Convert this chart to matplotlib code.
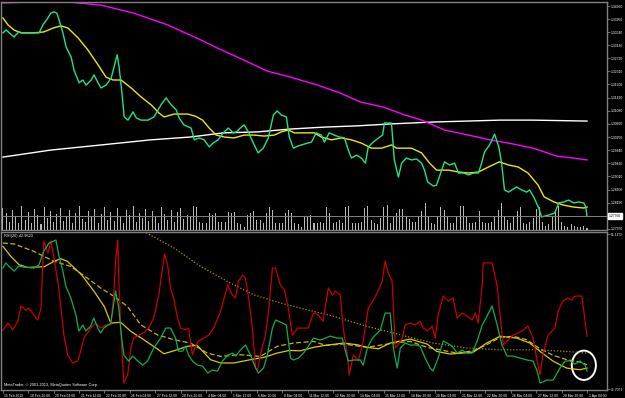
import numpy as np
import matplotlib.pyplot as plt
from matplotlib.patches import Ellipse
import matplotlib.transforms as mtrans

plt.rcParams['font.family'] = ['Liberation Sans', 'DejaVu Sans']

# ---- main panel (H4 bars, x = bar index) ----
close_pts = [
    (0, 1.3352), (1, 1.3361), (2, 1.3352), (3.5, 1.3339), (5, 1.3355), (6.3, 1.3352), (8, 1.3352),
    (10, 1.3352), (11.4, 1.3352), (12.6, 1.3377), (14.2, 1.3399), (15.1, 1.3414), (16.1, 1.3418),
    (17, 1.3414), (17.7, 1.3392), (18.9, 1.3352), (19.9, 1.3308), (21.5, 1.3276), (22.4, 1.3235),
    (24, 1.3195), (25.2, 1.3204), (26.2, 1.3188), (27.8, 1.3204), (28.7, 1.3220), (30, 1.3195),
    (30.9, 1.3179), (32.5, 1.3188), (34.1, 1.3210), (35, 1.3245), (36, 1.3283), (36.6, 1.3245),
    (37.5, 1.3163), (38.2, 1.3088), (39.4, 1.3078), (41, 1.3104), (42, 1.3085), (43.5, 1.3078),
    (45.7, 1.3078), (47.6, 1.3088), (49.8, 1.3126), (51.4, 1.3148), (53, 1.3126), (54.6, 1.3110),
    (55.5, 1.3085), (57, 1.3063), (59.3, 1.3053), (60.3, 1.3016), (61.8, 1.3022), (63.4, 1.3016),
    (65, 1.2994), (66.2, 1.3006), (67.8, 1.3016), (69.4, 1.3038), (71, 1.3053), (72.6, 1.3038),
    (73.5, 1.3041), (75.1, 1.3056), (76, 1.3063), (77.3, 1.3041), (78.9, 1.3006), (80.4, 1.2975),
    (82, 1.2990), (83.6, 1.3022), (85.2, 1.3094), (86.4, 1.3107), (87.7, 1.3094), (89.3, 1.3088),
    (90.2, 1.3025), (91.5, 1.2990), (93, 1.2997), (95, 1.3003), (97.2, 1.3009), (98.7, 1.3038),
    (100.3, 1.3031), (101.3, 1.3009), (102.8, 1.3038), (104.4, 1.3031), (106, 1.3025), (107.6, 1.3022),
    (108.8, 1.2984), (109.8, 1.2959), (111.4, 1.2968), (112.9, 1.2959), (114.2, 1.2943), (115.1, 1.2994),
    (116.7, 1.3009), (118.3, 1.3022), (119.6, 1.3031), (120.2, 1.3069), (121.5, 1.3069), (122.4, 1.3069),
    (123.3, 1.2953), (124.6, 1.2899), (125.6, 1.2943), (127.1, 1.2959), (128.7, 1.2953), (130.3, 1.2956),
    (131.9, 1.2943), (132.8, 1.2921), (133.8, 1.2884), (135.6, 1.2871), (136.6, 1.2874), (137.9, 1.2912),
    (139.1, 1.2947), (140.7, 1.2937), (142.3, 1.2943), (143.5, 1.2912), (145.1, 1.2912), (146.7, 1.2906),
    (148.3, 1.2912), (149.8, 1.2912), (150.8, 1.2943), (151.7, 1.2978), (153.3, 1.3000), (154.9, 1.3034),
    (156.2, 1.2994), (157.1, 1.2943), (158, 1.2859), (159.3, 1.2852), (161.8, 1.2868), (163.4, 1.2859),
    (165, 1.2852), (165.9, 1.2859), (167.2, 1.2837), (168.8, 1.2802), (169.7, 1.2774), (171.9, 1.2780),
    (173.8, 1.2786), (175.1, 1.2818), (176.7, 1.2821), (178.2, 1.2827), (179.8, 1.2818), (181.4, 1.2821),
    (183, 1.2818), (183.6, 1.2805), (184, 1.27766),
]

ma_fast_pts = [
    (0, 1.3399), (1.6, 1.3377), (3.5, 1.3361), (5.7, 1.3352), (9.8, 1.3352), (12.9, 1.3355), (15.8, 1.3367),
    (18.3, 1.3374), (20.5, 1.3367), (23.7, 1.3336), (26.8, 1.3298), (30, 1.3251), (32.5, 1.3213),
    (34.7, 1.3204), (37.2, 1.3204), (40.4, 1.3179), (43.5, 1.3151), (46.7, 1.3126), (49.2, 1.3100),
    (50.8, 1.3088), (53.9, 1.3097), (58.3, 1.3097), (60.7, 1.3090), (62.9, 1.3078), (65, 1.3053),
    (67.2, 1.3031), (69.7, 1.3025), (72.8, 1.3022), (76, 1.3031), (79.2, 1.3031), (82.3, 1.3028),
    (85.5, 1.3031), (87.7, 1.3041), (89.9, 1.3047), (91.8, 1.3038), (95, 1.3038), (98.1, 1.3038),
    (100.3, 1.3025), (103.5, 1.3016), (106.6, 1.3022), (109.8, 1.3016), (112.9, 1.3006), (116.1, 1.2990),
    (119.3, 1.2990), (122.4, 1.3000), (124, 1.2990), (128.7, 1.2990), (131.9, 1.2975), (134.4, 1.2943),
    (136.6, 1.2921), (140.4, 1.2921), (143.5, 1.2915), (146.7, 1.2912), (149.8, 1.2915), (153, 1.2931),
    (156.4, 1.2947), (159.3, 1.2937), (162.3, 1.2931), (165.4, 1.2912), (168.6, 1.2874), (170.5, 1.2837),
    (173.6, 1.2821), (176.7, 1.2811), (179.8, 1.2805), (183, 1.2802), (184, 1.2805),
]

ma_slow_pts = [
    (0, 1.3446), (9.8, 1.3449), (20.5, 1.3449), (30.9, 1.3439), (41.2, 1.3414), (51.9, 1.3377),
    (62.3, 1.3330), (67.6, 1.3304), (75.8, 1.3267), (83.3, 1.3232), (90.6, 1.3213), (99.1, 1.3188),
    (106.3, 1.3163), (112.6, 1.3135), (119.8, 1.3119), (126.7, 1.3094), (131.9, 1.3078), (139.1, 1.3047),
    (146.7, 1.3031), (153.5, 1.3016), (160.7, 1.3003), (167, 1.2990), (174.5, 1.2965), (179.6, 1.2959),
    (184, 1.2953),
]

ma_long_pts = [
    (0, 1.2962), (15.1, 1.2984), (30.9, 1.3000), (46.5, 1.3016), (59.1, 1.3025), (69.5, 1.3038),
    (80.2, 1.3041), (90.6, 1.3050), (101, 1.3056), (111.6, 1.3060), (122, 1.3066), (135.5, 1.3072),
    (146.2, 1.3075), (156.6, 1.3078), (167, 1.3078), (184, 1.3075),
]

volume = [
    2200, 1700, 800, 2000, 1400, 700, 2400, 1000, 1800, 700, 2100, 1500, 600, 2300, 1200, 1900, 800, 1600,
    2200, 900, 1300, 2000, 700, 1700, 2400, 1100, 800, 1900, 1400, 2100, 700, 1600, 2300, 1000, 1800, 900,
    2200, 1300, 700, 2000, 1500, 2400, 800, 1700, 1200, 2100, 900, 1900, 1400, 700, 2300, 1600, 1000, 2000,
    800, 1800, 2200, 1100, 1500, 1300,
    2400, 2300, 800, 700, 700, 1700, 1500, 1700, 800, 800, 800, 1800, 1700, 1800, 700, 600, 300, 1500,
    1700, 1900, 1000, 1000, 700, 1700, 2300, 2000, 700, 700, 700, 1700, 2000, 1700, 700, 600, 300, 1300,
    1400, 1500, 700, 700, 800, 700, 2300, 1700, 700, 800, 1000, 700, 2300, 2400, 700, 700, 700, 800,
    2200, 2400, 1000, 700, 600, 1200, 2300, 2500, 700, 1300, 1700, 2100, 2100, 1400,
    1100, 800, 800, 1300, 1900, 2700, 1300, 700, 600, 1400, 2300, 2000, 1300, 700, 700, 1300, 2400, 2400,
    1300, 700, 700, 800, 1900, 800, 700, 700, 800, 1300, 2000, 2700, 1300, 1000, 700, 1300, 1900, 2300,
    700, 600, 800, 1200, 2100, 2300, 800, 400, 600, 1300, 2000, 2400, 800, 400, 300, 600, 400, 300, 300,
    400, 200,
]

price_ticks = [1.34360, 1.33950, 1.33540, 1.33130, 1.32720, 1.32310, 1.31900, 1.31490, 1.31080,
               1.30660, 1.30250, 1.29840, 1.29420, 1.29010, 1.28600, 1.28190, 1.27370]
last_price = 1.27766

# ---- indicator panel ----
rsi_red_pts = [
    (0, 45.29), (1.6, 45.71), (3.1, 45.29), (4.7, 45.83), (5.7, 46.75), (7.2, 46.50), (8.2, 46.62),
    (9.7, 46.20), (11, 45.90), (12, 46.62), (12.6, 49.48), (12.9, 50.69), (14.2, 49.96), (15.1, 50.69),
    (16, 49.78), (17.6, 47.84), (19.2, 44.98), (20.4, 43.77), (22, 43.29), (23.6, 43.41), (24.5, 44.01),
    (25.5, 44.80), (27.7, 45.41), (29.2, 45.71), (30.8, 45.41), (32.4, 45.59), (34, 45.59), (34.9, 47.41),
    (35.5, 49.48), (36.2, 50.75), (36.5, 48.44), (37.1, 45.41), (38.1, 42.07), (39.3, 42.56), (40.3, 44.20),
    (41.2, 44.80), (42.8, 44.98), (44.3, 45.11), (45.9, 45.41), (47.5, 46.02), (49.1, 47.41), (50.3, 49.05),
    (50.9, 49.90), (51.9, 49.23), (52.8, 47.84), (53.8, 47.23), (55, 46.02), (56, 45.41), (57.5, 45.29),
    (58.5, 45.41), (59.7, 43.77), (60.7, 44.32), (61.6, 44.62), (63.2, 44.80), (64.8, 44.98), (66.4, 45.41),
    (68.6, 46.44), (70.8, 48.02), (72.3, 47.41), (73.3, 47.23), (74.2, 48.26), (75.5, 48.63), (76.4, 48.44),
    (77.4, 47.23), (78.6, 45.41), (79.6, 42.98), (80.2, 42.86), (81.1, 43.77), (82.7, 44.98), (83.7, 46.44),
    (84.9, 49.05), (85.9, 49.05), (87.4, 48.02), (88.7, 47.72), (89.9, 46.62), (91.2, 44.98), (92.8, 45.41),
    (94.3, 45.41), (96.2, 45.41), (97.8, 46.32), (99.4, 46.20), (100.9, 45.83), (102.5, 47.84),
    (103.8, 47.41), (104.7, 47.66), (106.3, 47.41), (107.2, 45.41), (108.5, 43.77), (109.1, 42.56),
    (110.4, 43.77), (112, 43.41), (113.5, 44.62), (115.1, 46.62), (116.7, 47.11), (118.2, 47.66),
    (119.5, 48.26), (120.4, 49.48), (121.4, 48.75), (122.6, 48.26), (123.6, 44.20), (124.5, 44.38),
    (125.8, 44.80), (126.7, 45.59), (128.3, 45.71), (129.9, 45.59), (131.4, 45.83), (132.4, 45.41),
    (133.7, 45.23), (135.2, 45.53), (136.2, 44.80), (137.1, 46.20), (138.7, 47.35), (140.3, 47.05),
    (141.8, 47.23), (143.1, 46.02), (144.7, 46.32), (146.2, 46.14), (147.8, 45.90), (148.8, 46.32),
    (149.7, 45.71), (151, 48.02), (151.3, 49.36), (154.1, 49.36), (155.7, 47.96), (156.6, 46.20),
    (157.6, 44.38), (158.8, 44.62), (160.7, 44.98), (163.5, 45.23), (165.4, 45.53), (167, 44.80),
    (168.3, 43.41), (169.2, 42.56), (170.1, 43.77), (171.7, 44.98), (173.9, 45.41), (174.9, 46.44),
    (176.4, 47.05), (178, 47.23), (179.2, 47.11), (180.2, 47.35), (182.4, 47.35), (184, 44.92),
]

rsi_green_pts = [
    (0, 49.05), (0.9, 49.36), (2.5, 49.05), (3.5, 48.87), (5, 49.17), (6.6, 49.11), (9.7, 49.05),
    (11.3, 49.23), (12.9, 50.08), (14.5, 50.57), (16.7, 50.75), (17.6, 49.84), (18.9, 48.87), (19.8, 47.96),
    (21.4, 47.23), (23, 46.20), (23.9, 45.23), (25.2, 45.59), (26.1, 45.23), (27.7, 45.53), (28.6, 46.02),
    (29.9, 45.41), (30.8, 45.11), (31.8, 45.41), (33, 45.59), (34, 45.71), (35.5, 47.66), (36.5, 46.62),
    (37.4, 44.80), (38.1, 43.77), (39.6, 43.41), (40.9, 43.71), (42.5, 43.41), (44, 43.16), (45.6, 43.41),
    (47.5, 44.20), (49.7, 44.80), (51.3, 45.41), (52.8, 45.41), (54.4, 44.80), (55.3, 44.01), (56.6, 44.01),
    (57.5, 44.32), (58.5, 43.77), (59.7, 43.41), (61.3, 43.16), (62.9, 43.10), (64.5, 42.68), (66, 42.86),
    (67.6, 42.80), (69.2, 43.41), (70.8, 43.77), (72.3, 43.89), (73.3, 43.71), (74.8, 44.07), (76.4, 44.38),
    (78, 43.77), (79.6, 42.98), (80.5, 42.68), (82.1, 42.98), (83.3, 43.77), (84.9, 45.41), (85.9, 45.90),
    (88.1, 45.71), (89.3, 45.59), (90.6, 43.59), (91.5, 43.47), (93.1, 43.59), (94.7, 43.89), (95.9, 44.20),
    (97.8, 44.80), (100, 44.68), (101.6, 44.80), (103.1, 44.92), (105.3, 44.80), (106.9, 44.80),
    (107.9, 44.01), (108.8, 43.41), (110.4, 43.47), (112.6, 43.47), (113.5, 43.16), (114.8, 44.20),
    (116.4, 44.80), (118.9, 45.29), (120.4, 46.32), (122, 46.32), (123, 44.20), (124.2, 42.98),
    (125.2, 44.20), (126.7, 44.50), (128.3, 44.38), (129.9, 44.38), (131.4, 44.32), (133, 43.59),
    (134.6, 42.98), (135.5, 42.80), (137.1, 43.59), (138.7, 44.62), (139.9, 44.50), (141.5, 44.32),
    (143.1, 43.89), (144.7, 44.07), (146.2, 43.89), (147.8, 43.89), (149.4, 44.62), (151, 45.59),
    (152.5, 46.14), (154.1, 46.75), (155.7, 45.59), (157.2, 44.38), (158.8, 43.71), (160.7, 43.71),
    (162.9, 43.59), (165.1, 43.47), (167, 43.41), (168.3, 42.80), (169.2, 42.07), (171.4, 42.25),
    (173.3, 42.25), (175.5, 42.98), (177.1, 43.41), (178.7, 43.41), (180.2, 43.22), (181.8, 43.41),
    (183.4, 43.16), (184, 42.80),
]

sig_solid_pts = [
    (0, 50.37), (2.5, 49.76), (5.1, 49.25), (7.8, 49.09), (13, 49.13), (16.1, 49.46), (18.2, 49.62),
    (20.3, 49.46), (24.8, 48.64), (28.7, 47.64), (31.9, 46.73), (34, 45.71), (37.1, 45.76), (40.3, 45.21),
    (44.4, 44.70), (48.6, 44.15), (50.7, 43.85), (53.9, 44.03), (58.1, 44.30), (61.2, 44.36), (65.4, 43.49),
    (68.6, 43.29), (72.7, 43.29), (78, 43.49), (82.2, 43.63), (86.4, 43.89), (90.2, 44.05), (93.7, 44.03),
    (97.9, 44.24), (101.6, 44.36), (107.3, 44.50), (111.5, 44.40), (114.7, 44.24), (118.3, 44.15),
    (122, 44.50), (128.3, 44.74), (133.6, 44.44), (136.7, 43.99), (140.9, 43.83), (148.2, 43.95),
    (152.4, 44.50), (156.6, 44.91), (161.9, 44.80), (166, 44.50), (169.2, 43.99), (173.4, 43.39),
    (177.6, 42.98), (181.8, 42.88), (184, 42.98),
]

sig_dash_pts = [
    (0, 50.57), (3.6, 50.51), (9.8, 50.06), (16.1, 49.46), (21.4, 49.15), (26.6, 48.44), (30.8, 47.84),
    (35, 47.33), (39.2, 46.73), (43.4, 45.61), (48.6, 45.00), (53.9, 44.70), (59.1, 44.50), (64.4, 43.89),
    (68.6, 43.69), (74.8, 43.79), (81.1, 43.69), (86.4, 44.30), (91.6, 44.50), (97.9, 44.60), (101.6, 44.36),
    (107.3, 44.44), (114.7, 44.24), (123, 44.50), (128.3, 44.60), (133.6, 44.24), (137.7, 44.09),
    (143, 43.89), (148.2, 44.03), (152.4, 44.40), (156.6, 44.84), (160.8, 44.91), (165, 44.70),
    (169.2, 44.15), (173.4, 43.75), (177.6, 43.49), (181.8, 43.35), (184, 43.18),
]

sig_dot_pts = [
    (43.4, 51.38), (53.9, 50.27), (62.3, 49.15), (70.7, 48.24), (79, 47.43), (87.4, 46.93), (93.7, 46.62),
    (104.2, 46.12), (114.7, 45.51), (125.2, 45.00), (135.6, 44.50), (146.1, 44.20), (156.6, 44.09),
    (167.1, 44.09), (177.6, 43.99), (184, 43.89),
]

ind_ticks = [51.1172, 41.7071]
ind_label = "RSI(20) 42.9623"

time_labels = ["15 Feb 2013", "18 Feb 20:00", "20 Feb 04:00", "21 Feb 12:00", "22 Feb 20:00",
               "26 Feb 04:00", "27 Feb 12:00", "28 Feb 20:00", "4 Mar 04:00", "5 Mar 12:00",
               "6 Mar 20:00", "8 Mar 04:00", "11 Mar 12:00", "12 Mar 20:00", "14 Mar 04:00",
               "15 Mar 12:00", "18 Mar 20:00", "20 Mar 04:00", "21 Mar 12:00", "22 Mar 20:00",
               "26 Mar 04:00", "27 Mar 12:00", "28 Mar 20:00", "1 Apr 04:00"]
bars_per_label = 8


def xy(pts):
    a = np.array(pts)
    return a[:, 0], a[:, 1]


GRID = '#808080'
TXT = 'white'
FS = 2.4      # axis labels (MT4 uses a tiny font)
FS_NOTE = 2.8

fig = plt.figure(figsize=(6.25, 3.98), dpi=100, facecolor='black')
ax = fig.add_axes([0.0016, 0.4221, 0.9696, 0.5729])
ax2 = fig.add_axes([0.0016, 0.0201, 0.9696, 0.3970], sharex=ax, facecolor='black')

# volumes under the price lines
axv = ax.twinx()
axv.set_facecolor('black')
ax.set_zorder(axv.get_zorder() + 1)
ax.patch.set_visible(False)
axv.bar(np.arange(len(volume)), volume, width=0.32, color='#b8b8b8', linewidth=0)
axv.set_ylim(0, 22800)
axv.set_yticks([])
for s in axv.spines.values():
    s.set_visible(False)

ax.plot(*xy(ma_long_pts), color='white', lw=1.0)
ax.plot(*xy(ma_slow_pts), color='#ff00ff', lw=1.0)
ax.plot(*xy(ma_fast_pts), color='#f2e600', lw=1.0)
ax.plot(*xy(close_pts), color='#1fe38a', lw=1.0)
ax.axhline(last_price, color=GRID, lw=0.7)

ax.set_xlim(-0.6, 190.3)
ax.set_ylim(1.27330, 1.34489)
ax.yaxis.tick_right()
ax.set_yticks(price_ticks)
ax.set_yticklabels([f"{p:.5f}" for p in price_ticks])
ax.tick_params(axis='y', colors=GRID, labelcolor=TXT, labelsize=FS, length=2, width=0.6, pad=1)
ax.tick_params(axis='x', bottom=False, labelbottom=False)
ax.text(1.003, last_price, f"{last_price:.5f}", transform=ax.get_yaxis_transform(),
        fontsize=FS, color='black', va='center', ha='left',
        bbox=dict(boxstyle='square,pad=0.2', fc='white', ec='white'))

# indicator panel
ax2.plot(*xy(sig_dot_pts), color='#a89600', lw=0.9, ls=(0, (1, 1.5)))
ax2.plot(*xy(sig_dash_pts), color='#c8b400', lw=0.9, ls=(0, (4, 2)))
ax2.plot(*xy(sig_solid_pts), color='#d8cc00', lw=0.9)
ax2.plot(*xy(rsi_red_pts), color='#c80000', lw=0.9)
ax2.plot(*xy(rsi_green_pts), color='#0fae55', lw=0.9)
ax2.set_ylim(41.65, 51.24)

last_x, last_v = rsi_green_pts[-1]
ax2.add_patch(Ellipse((last_x - 1.0, last_v + 0.35), 7.6, 1.78, fill=False, ec='white', lw=1.4))

ax2.yaxis.tick_right()
ax2.set_yticks(ind_ticks)
ax2.set_yticklabels([f"{v:.4f}" for v in ind_ticks])
ax2.tick_params(axis='y', colors=GRID, labelcolor=TXT, labelsize=FS, length=2, width=0.6, pad=1)

tick_pos = np.arange(len(time_labels)) * bars_per_label
ax2.set_xticks(tick_pos)
ax2.set_xticklabels(time_labels, ha='left')
ax2.tick_params(axis='x', colors=GRID, labelcolor=TXT, labelsize=FS, length=2.5, width=0.6, pad=0.6)
shift = mtrans.ScaledTranslation(1.5 / 100, 0, fig.dpi_scale_trans)
for lab in ax2.get_xticklabels():
    lab.set_transform(lab.get_transform() + shift)

ax2.text(0.005, 0.985, ind_label, transform=ax2.transAxes, fontsize=FS_NOTE, color=TXT, va='top', ha='left')
ax2.text(0.005, 0.02, "MetaTrader, \u00a9 2001-2013, MetaQuotes Software Corp.", transform=ax2.transAxes,
         fontsize=FS_NOTE, color=TXT, va='bottom', ha='left')

for a in (ax, ax2):
    for s in a.spines.values():
        s.set_color(GRID)
        s.set_linewidth(1.0)

fig.savefig("out.png", dpi=100, facecolor='black')
